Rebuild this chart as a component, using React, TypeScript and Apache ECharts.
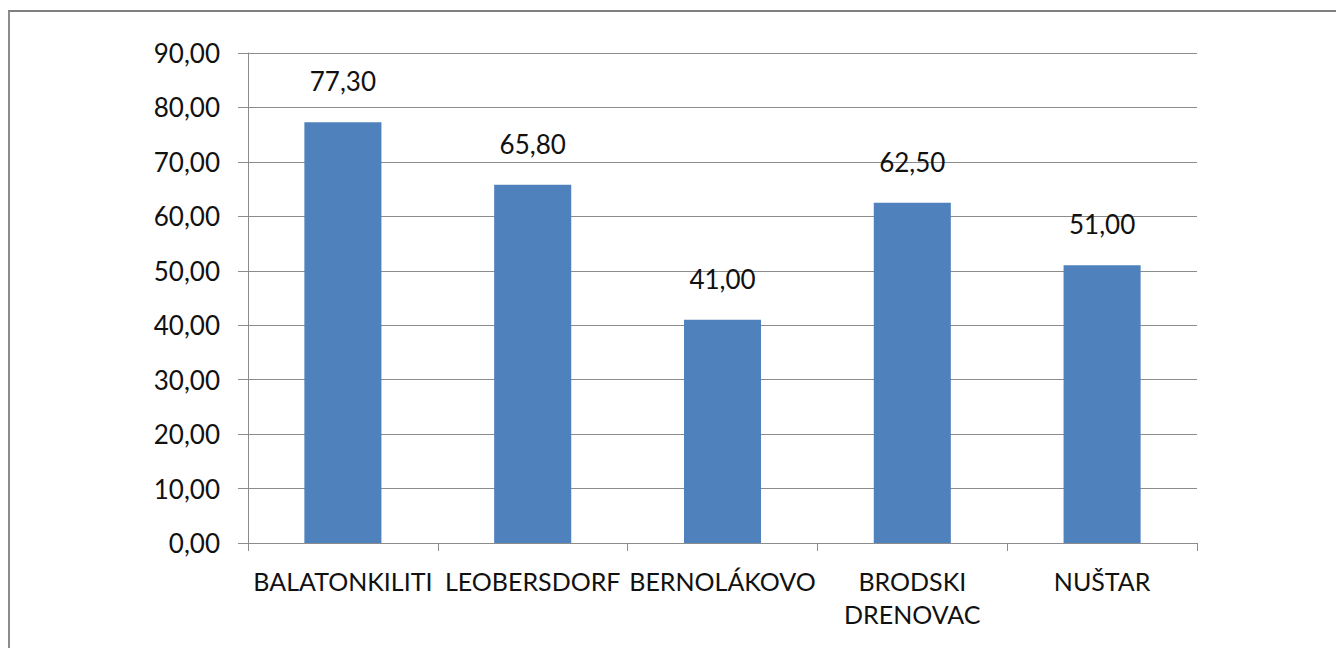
import React, { useEffect, useRef } from "react";
import * as echarts from "echarts";

const categories = ["BALATONKILITI", "LEOBERSDORF", "BERNOLÁKOVO", "BRODSKI\nDRENOVAC", "NUŠTAR"];
const values = [77.3, 65.8, 41.0, 62.5, 51.0];
const yMin = 0;
const yMax = 90;
const yInterval = 10;

const fmt = (v: number) => v.toFixed(2).replace(".", ",");

export default function App() {
  const ref = useRef<HTMLDivElement>(null);
  useEffect(() => {
    if (!ref.current) return;
    const chart = echarts.init(ref.current, null, { renderer: "svg" });
    const font = "Lato";
    chart.setOption({
      animation: false,
      backgroundColor: "#ffffff",
      textStyle: { fontFamily: font },
      graphic: [
        { type: "line", shape: { x1: 8, y1: 11, x2: 1336, y2: 11 }, style: { stroke: "#7f7f7f", lineWidth: 2 } },
        { type: "line", shape: { x1: 9, y1: 11, x2: 9, y2: 648 }, style: { stroke: "#8c8c8c", lineWidth: 2 } },
      ],
      grid: { left: 248, right: 139, top: 53, bottom: 105 },
      xAxis: {
        type: "category",
        data: categories,
        axisLine: { show: true, lineStyle: { color: "#8c8c8c", width: 1 } },
        axisTick: { show: true, length: 8, lineStyle: { color: "#8c8c8c" } },
        axisLabel: { color: "#111111", fontSize: 25, fontFamily: font, margin: 21, lineHeight: 33, interval: 0 },
      },
      yAxis: {
        type: "value",
        min: yMin,
        max: yMax,
        interval: yInterval,
        axisLine: { show: true, lineStyle: { color: "#8c8c8c", width: 1 } },
        axisTick: { show: true, length: 10, lineStyle: { color: "#8c8c8c" } },
        splitLine: { show: true, lineStyle: { color: "#8c8c8c", width: 1 } },
        axisLabel: { color: "#111111", fontSize: 26, fontFamily: font, margin: 28, formatter: (v: number) => fmt(v) },
      },
      series: [
        {
          type: "bar",
          data: values,
          barWidth: "40.6%",
          itemStyle: { color: "#4f81bd" },
          label: {
            show: true,
            position: "top",
            distance: 28,
            color: "#111111",
            fontSize: 26,
            fontFamily: font,
            formatter: (p: any) => fmt(p.value),
          },
        },
      ],
    });
    return () => chart.dispose();
  }, []);
  return (
    <div
      ref={ref}
      style={{ position: "fixed", left: 0, top: 0, width: 1336, height: 648 }}
    />
  );
}
